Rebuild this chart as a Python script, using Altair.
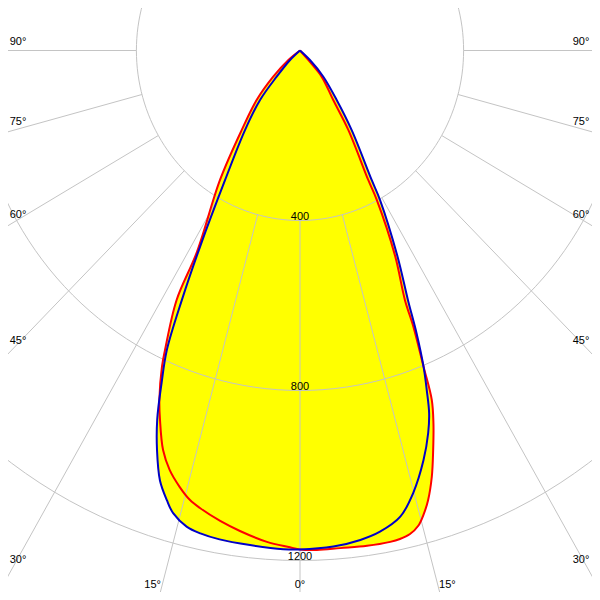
import math
import altair as alt
import pandas as pd

# ---------------- data ----------------
# C0-C180 plane (blue): angle from nadir in degrees (negative = left), intensity in cd
blue_angle = [-90, -47.4, -42.8, -40.0, -35.7, -31.0, -27.9, -26.2, -24.8, -23.4,
              -21.9, -20.4, -18.7, -17.1, -15.9, -13.9, -12.1, -9.7, -6.0, -2.0,
              0, 4.0, 7.3, 9.8, 12.6, 14.9, 17.4, 19.2, 20.3, 21.2,
              22.1, 23.2, 24.2, 26.2, 29.1, 29.9, 34.0, 37.6, 42.8, 47.4, 90]
blue_cd = [0, 33, 84, 152, 230, 356, 522, 654, 776, 852,
           936, 1003, 1068, 1107, 1132, 1154, 1162, 1167, 1170, 1174,
           1174, 1170, 1161, 1149, 1124, 1077, 1010, 953, 910, 857,
           803, 723, 644, 540, 402, 352, 226, 147, 84, 33, 0]

# C90-C270 plane (red)
red_angle = [-90, -51.9, -46.7, -42.3, -37.3, -32.7, -28.0, -27.2, -25.1, -24.4,
             -22.7, -21.5, -19.6, -17.9, -16.0, -14.3, -12.8, -10.0, -7.4, -4.0,
             -1.2, 0, 2.0, 4.8, 8.0, 10.8, 12.0, 13.3, 14.5, 15.5,
             16.5, 17.8, 19.1, 20.4, 21.4, 22.1, 23.1, 23.6, 25.7, 28.1,
             28.7, 32.3, 34.9, 40.7, 42.2, 90]
red_cd = [0, 36, 90, 157, 235, 362, 536, 660, 778, 817,
          891, 934, 998, 1037, 1068, 1091, 1104, 1124, 1140, 1159,
          1169, 1174, 1176, 1175, 1177, 1177, 1175, 1169, 1155, 1132,
          1103, 1054, 995, 936, 883, 803, 707, 641, 536, 399,
          348, 221, 142, 81, 30, 0]

ring_values = [400, 800, 1200, 1600]
ring_labels = ["400", "800", "1200"]
spoke_angles = list(range(-165, 181, 15))
side_label_angles = [90, 75, 60, 45, 30]
bottom_label_angles = [-15, 0, 15]

# ---------------- layout ----------------
W = H = 584
OFF = 8                  # page margin
CX, CY = 300.0, 50.5     # pole position (page pixels)
SX, SY = 0.409, 0.425    # pixels per cd, horizontal / vertical


def px_to_x(X):
    return (X - CX) / SX


def px_to_y(Y):
    return -(Y - CY) / SY


XMIN, XMAX = px_to_x(OFF), px_to_x(OFF + W)
YMAX, YMIN = px_to_y(OFF), px_to_y(OFF + H)

xs = alt.Scale(domain=[XMIN, XMAX], nice=False, zero=False)
ys = alt.Scale(domain=[YMIN, YMAX], nice=False, zero=False)
FONT = "Liberation Sans"
INTERP = "catmull-rom"


def X(f="x"):
    return alt.X(f + ":Q", scale=xs, axis=None)


def Y(f="y"):
    return alt.Y(f + ":Q", scale=ys, axis=None)


def curve_df(angles, vals):
    assert len(angles) == len(vals)
    return pd.DataFrame({"i": range(len(angles)), "a": angles, "cd": vals})


def polar(ch):
    return ch.transform_calculate(
        x="datum.cd*sin(datum.a*PI/180)",
        y="-datum.cd*cos(datum.a*PI/180)",
    )


blue_df = curve_df(blue_angle, blue_cd)
red_df = curve_df(red_angle, red_cd)

fill_red = polar(alt.Chart(red_df)).mark_line(
    fill="#ffff00", stroke="#ffff00", strokeWidth=0.5, clip=True, interpolate=INTERP
).encode(x=X(), y=Y(), order="i:Q")
fill_blue = polar(alt.Chart(blue_df)).mark_line(
    fill="#ffff00", stroke="#ffff00", strokeWidth=0.5, clip=True, interpolate=INTERP
).encode(x=X(), y=Y(), order="i:Q")

# rings
ring_rows = []
for r in ring_values:
    for k, a in enumerate(range(0, 361, 2)):
        ring_rows.append({"ring": r, "k": k,
                          "x": r * math.sin(math.radians(a)),
                          "y": -r * math.cos(math.radians(a))})
rings = alt.Chart(pd.DataFrame(ring_rows)).mark_line(
    color="#c4c4c4", strokeWidth=1, clip=True
).encode(x=X(), y=Y(), detail="ring:N", order="k:Q")

# spokes from the 400 ring outwards
spoke_rows = []
for a in spoke_angles:
    s, c = math.sin(math.radians(a)), math.cos(math.radians(a))
    spoke_rows.append({"x": 400 * s, "y": -400 * c, "x2": 3000 * s, "y2": -3000 * c})
spokes = alt.Chart(pd.DataFrame(spoke_rows)).mark_rule(
    color="#c4c4c4", strokeWidth=1, clip=True
).encode(x=X(), y=Y(), x2="x2:Q", y2="y2:Q")

# ring labels
ring_text = alt.Chart(pd.DataFrame({
    "t": ring_labels, "x": [0] * len(ring_labels),
    "y": [-float(v) for v in ring_labels]})).mark_text(
    font=FONT, fontSize=11, color="black", baseline="alphabetic", align="center", dy=-1
).encode(x=X(), y=Y(), text="t:N")

# angle labels
lab_rows = []
for a in side_label_angles:
    ta = math.tan(math.radians(a)) if a < 90 else None
    for side in (-1, 1):
        Xa = 12 if side < 0 else 588
        if ta is None:
            Ya = CY
        else:
            Ya = CY + abs(Xa - CX) * SY / SX / ta
        Xc = 18 if side < 0 else 581
        lab_rows.append({"t": f"{a}°", "x": px_to_x(Xc), "y": px_to_y(Ya - 8.5)})
for a in bottom_label_angles:
    Yr = 595
    Xr = CX + math.tan(math.radians(a)) * (Yr - CY) * SX / SY
    sgn = 0 if a == 0 else (1 if a > 0 else -1)
    lab_rows.append({"t": f"{abs(a)}°", "x": px_to_x(Xr + 7 * sgn), "y": px_to_y(585)})
ang_text = alt.Chart(pd.DataFrame(lab_rows)).mark_text(
    font=FONT, fontSize=11, color="black", baseline="middle", align="center"
).encode(x=X(), y=Y(), text="t:N")

red_line = polar(alt.Chart(red_df)).mark_line(
    color="#ff0000", strokeWidth=2, clip=True, interpolate=INTERP
).encode(x=X(), y=Y(), order="i:Q")
blue_line = polar(alt.Chart(blue_df)).mark_line(
    color="#0000c8", strokeWidth=2, clip=True, interpolate=INTERP
).encode(x=X(), y=Y(), order="i:Q")

chart = alt.layer(
    fill_red, fill_blue, rings, spokes, ring_text, ang_text, red_line, blue_line
).properties(
    width=W, height=H, autosize=alt.AutoSizeParams(type="none"), padding=0, background="white"
).configure_view(stroke=None)

chart.save("out.html", embed_options={"renderer": "svg", "actions": False})
